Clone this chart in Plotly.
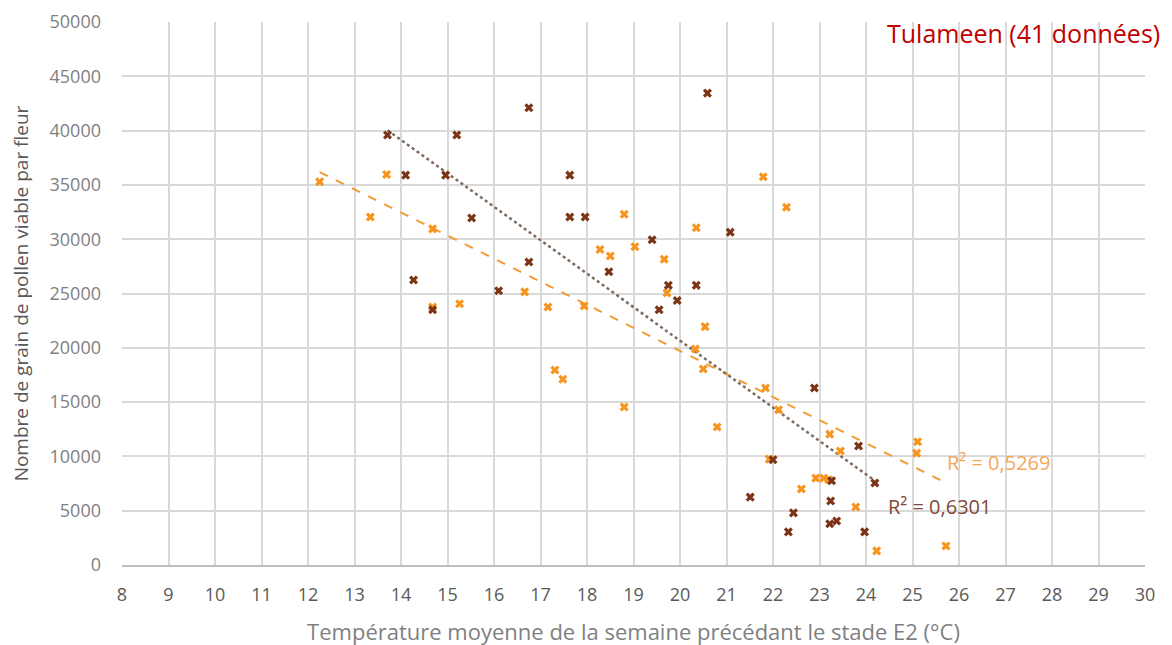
import numpy as np
import plotly.graph_objects as go

# Dark brown series
dark_x = [13.71, 14.10, 14.27, 14.68, 14.96, 15.20, 15.52, 16.10, 16.75, 16.75,
          17.63, 17.63, 17.96, 18.47, 19.40, 19.55, 19.75, 19.94, 20.35, 20.59,
          21.08, 21.51, 22.00, 22.33, 22.44, 22.89, 23.22, 23.24, 23.26, 23.37,
          23.84, 23.97, 24.19]
dark_y = [39600, 35900, 26250, 23500, 35900, 39600, 31950, 25250, 42100, 27900,
          35900, 32050, 32050, 27000, 29950, 23500, 25750, 24350, 25750, 43450,
          30650, 6250, 9700, 3050, 4800, 16300, 3800, 5900, 7750, 4050,
          10950, 3050, 7550]

# Orange series
orange_x = [12.25, 13.34, 13.69, 14.68, 14.68, 15.26, 16.66, 17.16, 17.31, 17.48,
            17.94, 18.28, 18.50, 18.80, 18.80, 19.03, 19.66, 19.72, 20.33, 20.35,
            20.50, 20.54, 20.80, 21.79, 21.84, 21.92, 22.12, 22.29, 22.61, 22.92,
            23.09, 23.20, 23.22, 23.45, 23.78, 24.23, 25.09, 25.11, 25.72]
orange_y = [35300, 32050, 35950, 30950, 23750, 24050, 25150, 23750, 17950, 17100,
            23850, 29050, 28450, 32300, 14550, 29300, 28150, 25050, 19900, 31050,
            18050, 21950, 12700, 35750, 16300, 9750, 14300, 32950, 7000, 8000,
            8000, 7850, 12050, 10500, 5350, 1300, 10300, 11350, 1750]

x_ticks = list(range(8, 31))
y_ticks = list(range(0, 50001, 5000))

r2_dark = "R² = 0,6301"
r2_orange = "R² = 0,5269"
title_text = "Tulameen (41 données)"

DARK = "#7B3416"
ORANGE = "#F7941D"

fig = go.Figure()

# trendlines (least squares from data)
def trend(xs, ys):
    xs = np.array(xs); ys = np.array(ys)
    m, b = np.polyfit(xs, ys, 1)
    xx = np.array([xs.min(), xs.max()])
    return xx, m * xx + b

tx, ty = trend(orange_x, orange_y)
fig.add_trace(go.Scatter(x=tx, y=ty, mode="lines",
                         line=dict(color="#F59A30", width=2, dash="dash"),
                         showlegend=False, hoverinfo="skip"))
tx, ty = trend(dark_x, dark_y)
fig.add_trace(go.Scatter(x=tx, y=ty, mode="lines",
                         line=dict(color="#7F6A5E", width=2.5, dash="dot"),
                         showlegend=False, hoverinfo="skip"))

fig.add_trace(go.Scatter(x=orange_x, y=orange_y, mode="markers",
                         marker=dict(symbol="x", size=8, color=ORANGE,
                                     line=dict(width=0)),
                         showlegend=False))
fig.add_trace(go.Scatter(x=dark_x, y=dark_y, mode="markers",
                         marker=dict(symbol="x", size=8, color=DARK,
                                     line=dict(width=0)),
                         showlegend=False))

fig.add_annotation(x=25.69, y=9400, text=r2_orange, showarrow=False,
                   xanchor="left", yanchor="middle",
                   font=dict(family="Open Sans", size=20, color="#F4A75A"))
fig.add_annotation(x=24.44, y=5350, text=r2_dark, showarrow=False,
                   xanchor="left", yanchor="middle",
                   font=dict(family="Open Sans", size=20, color="#7E4A3A"))
fig.add_annotation(xref="paper", yref="paper", x=1.017, y=0.98,
                   text=title_text, showarrow=False,
                   xanchor="right", yanchor="middle",
                   font=dict(family="Open Sans", size=25, color="#C00000"))

fig.update_layout(
    width=1172, height=645,
    margin=dict(l=114, r=35, t=14, b=88),
    plot_bgcolor="white", paper_bgcolor="white",
    font=dict(family="Open Sans", color="#595959"),
    xaxis=dict(range=[8, 30], tickvals=x_ticks, ticktext=[str(v) for v in x_ticks],
               showgrid=True, gridcolor="#D9D9D9", gridwidth=2,
               showline=True, linecolor="#BFBFBF", linewidth=2,
               zeroline=False, ticks="", ticklabelstandoff=12, automargin=False,
               tickfont=dict(size=18, color="#595959"),
               title=dict(text="Température moyenne de la semaine précédant le stade E2 (°C)",
                          font=dict(size=22, color="#7F7F7F"), standoff=20)),
    yaxis=dict(range=[0, 50000], tickvals=y_ticks, ticktext=[str(v) for v in y_ticks],
               showgrid=True, gridcolor="#D9D9D9", gridwidth=2,
               showline=False, zeroline=False, ticks="", ticklabelstandoff=20,
               automargin=False,
               tickfont=dict(size=18, color="#7F7F7F"),
               title=dict(text="Nombre de grain de pollen viable par fleur",
                          font=dict(size=19, color="#595959"), standoff=16)),
)

fig.write_html("out.html")
